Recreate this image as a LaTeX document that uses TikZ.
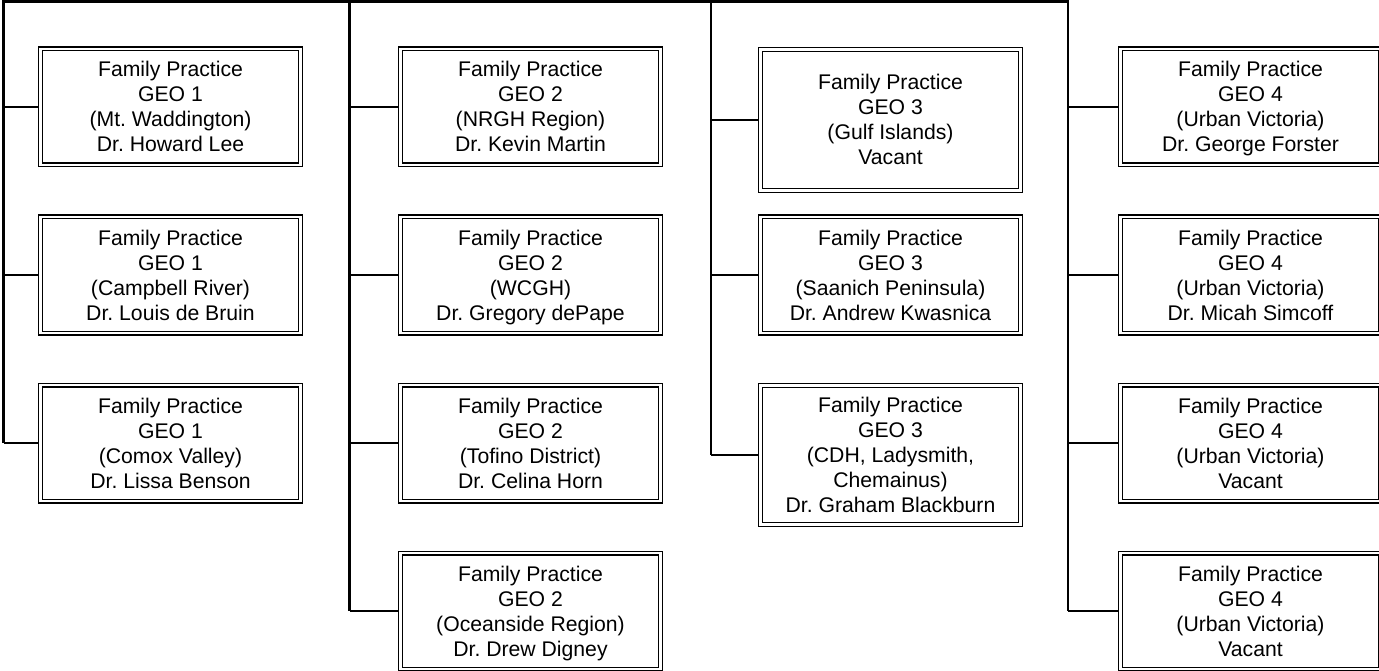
\documentclass[tikz,border=0pt]{standalone}
\usepackage{fontspec}
\setmainfont{Liberation Sans}
\usetikzlibrary{calc}
\frenchspacing
\newcommand{\famprac}{\rule{0pt}{22.5pt}Family Practice}
\tikzset{
	geobox/.style={draw, double, double distance=2.8pt, line width=1.1pt, minimum width=260pt, minimum height=116pt, align=center, inner sep=0pt, outer sep=2.5pt, font=\fontsize{21.2}{25}\selectfont, execute at end node=\strut},
	trunk/.style={line width=2.4pt, line join=miter},
	stub/.style={line width=1.6pt}
}
\begin{document}
\begin{tikzpicture}
	[x=1pt, y=-1pt]
	\useasboundingbox (0,0) rectangle (1379,671);
	\coordinate (t1) at (3.5,1.5);
	\coordinate (t2) at (349.5,1.5);
	\coordinate (t3) at (711,1.5);
	\coordinate (t4) at (1068,1.5);
	\node[geobox] (g1a) at (170.5,107) {\famprac\\GEO 1\\(Mt. Waddington)\\Dr. Howard Lee};
	\node[geobox] (g1b) at (170.5,275) {\famprac\\GEO 1\\(Campbell River)\\Dr. Louis de Bruin};
	\node[geobox] (g1c) at (170.5,443) {\famprac\\GEO 1\\(Comox Valley)\\Dr. Lissa Benson};
	\node[geobox] (g2a) at (530.5,107) {\famprac\\GEO 2\\(NRGH Region)\\Dr. Kevin Martin};
	\node[geobox] (g2b) at (530.5,275) {\famprac\\GEO 2\\(WCGH)\\Dr. Gregory dePape};
	\node[geobox] (g2c) at (530.5,443) {\famprac\\GEO 2\\(Tofino District)\\Dr. Celina Horn};
	\node[geobox] (g2d) at (530.5,611) {\famprac\\GEO 2\\(Oceanside Region)\\Dr. Drew Digney};
	\node[geobox, minimum height=141pt] (g3a) at (890.5,120) {\famprac\\GEO 3\\(Gulf Islands)\\Vacant};
	\node[geobox] (g3b) at (890.5,275) {\famprac\\GEO 3\\(Saanich Peninsula)\\Dr. Andrew Kwasnica};
	\node[geobox, minimum height=139pt] (g3c) at (890.5,455) {\famprac\\GEO 3\\(CDH, Ladysmith,\\Chemainus)\\Dr. Graham Blackburn};
	\node[geobox] (g4a) at (1250.5,107) {\famprac\\GEO 4\\(Urban Victoria)\\Dr. George Forster};
	\node[geobox] (g4b) at (1250.5,275) {\famprac\\GEO 4\\(Urban Victoria)\\Dr. Micah Simcoff};
	\node[geobox] (g4c) at (1250.5,443) {\famprac\\GEO 4\\(Urban Victoria)\\Vacant};
	\node[geobox] (g4d) at (1250.5,611) {\famprac\\GEO 4\\(Urban Victoria)\\Vacant};
	\draw[trunk] (t1 |- g1c.west) -- (t1) -- (t4) -- (t4 |- g4d.west);
	\draw[trunk] (t2) -- (t2 |- g2d.west);
	\draw[trunk] (t3) -- (t3 |- g3c.west);
	\draw[stub] (t1 |- g1a.west) -- (g1a.west);
	\draw[stub] (t1 |- g1b.west) -- (g1b.west);
	\draw[stub] (t1 |- g1c.west) -- (g1c.west);
	\draw[stub] (t2 |- g2a.west) -- (g2a.west);
	\draw[stub] (t2 |- g2b.west) -- (g2b.west);
	\draw[stub] (t2 |- g2c.west) -- (g2c.west);
	\draw[stub] (t2 |- g2d.west) -- (g2d.west);
	\draw[stub] (t3 |- g3a.west) -- (g3a.west);
	\draw[stub] (t3 |- g3b.west) -- (g3b.west);
	\draw[stub] (t3 |- g3c.west) -- (g3c.west);
	\draw[stub] (t4 |- g4a.west) -- (g4a.west);
	\draw[stub] (t4 |- g4b.west) -- (g4b.west);
	\draw[stub] (t4 |- g4c.west) -- (g4c.west);
	\draw[stub] (t4 |- g4d.west) -- (g4d.west);
\end{tikzpicture}
\end{document}
